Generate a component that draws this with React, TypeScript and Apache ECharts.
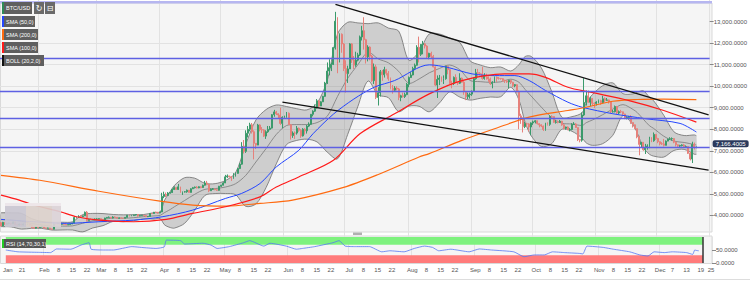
import React, { useEffect, useRef } from 'react';
import * as echarts from 'echarts';

// ---------- categories (daily, 2019-01-13 .. 2019-12-26) ----------
const firstDay = Date.UTC(2019, 0, 13);
const categories: string[] = Array.from({ length: 348 }, (_, i) =>
  new Date(firstDay + i * 86400000).toISOString().slice(0, 10));

// ---------- BTC/USD daily OHLC (2019-01-13 .. 2019-12-20) ----------
const opens = [
  3661,3508,3677,3583,3626,3643,3610,3698,3564,3550,3587,3553,3592,3583,3595,3550,3435,3402,3473,
  3440,3462,3504,3415,3401,3411,3371,3360,3614,3603,3640,3587,3604,3585,3560,3573,3600,3642,3901,3914,3990,3938,3978,4142,3763,3817,3806,3820,
  3824,3834,3848,3815,3736,3879,3907,3911,3874,3924,3911,3866,3881,3874,3870,3908,4006,3982,3990,4023,4040,3976,3990,4000,3993,3937,3950,4090,4088,4146,4145,
  4108,4160,4880,4974,4922,5036,5060,5201,5289,5205,5325,5064,5090,5096,5167,5067,5236,5288,5312,5277,5330,5292,5400,5504,5441,5144,5215,5226,5194,5163,
  5350,5402,5506,5788,5830,5796,5747,5830,5952,6175,6379,7205,6973,7814,7994,8205,7884,7344,7264,8197,7978,7963,7680,7882,7992,8052,8674,8805,8720,8660,8271,
  8555,8564,8742,8208,7707,7824,7822,8043,7954,7688,8000,7927,8145,8230,8693,8838,8994,9320,9082,9273,9527,10144,10701,10855,11011,11790,13016,11183,12407,11960,
  10818,10583,10801,11961,11215,10978,11208,11450,12285,12573,12156,11358,11815,11392,10256,10895,9477,9693,10666,10530,10767,10599,10343,9900,9811,9911,9870,9477,9552,9519,9607,
  10085,10399,10518,10821,10970,11805,11478,11941,11966,11862,11354,11523,11382,10895,10051,10311,10374,10231,10345,10916,10763,10139,10131,10407,10160,10138,10370,10185,9754,9510,9598,
  9630,9757,10346,10623,10594,10575,10353,10517,10441,10334,10115,10178,10410,10360,10358,10347,10276,10241,10198,10266,10181,10019,10070,9729,8620,8486,8118,8251,8245,8104,
  8293,8343,8393,8260,8205,8151,7988,8245,8228,8595,8586,8321,8336,8321,8374,8205,8047,8103,7973,7988,8222,8243,8078,7514,7493,8660,9244,9551,9256,9427,9205,
  9199,9261,9324,9235,9413,9342,9360,9267,8804,8813,9055,8757,8815,8808,8708,8491,8550,8577,8310,8206,8027,7642,7296,7397,7047,7147,7218,7531,7463,7761,
  7569,7424,7322,7320,7252,7448,7546,7556,7565,7401,7278,7217,7243,7270,7192,7194,6881,6617,7296,7151,
];
const closes = [
  3508,3677,3583,3626,3643,3610,3698,3564,3550,3587,3553,3592,3583,3595,3550,3435,3402,3473,3440,
  3462,3504,3415,3401,3411,3371,3360,3614,3603,3640,3587,3604,3585,3560,3573,3600,3642,3901,3914,3990,3938,3978,4142,3763,3817,3806,3820,3824,
  3834,3848,3815,3736,3879,3907,3911,3874,3924,3911,3866,3881,3874,3870,3908,4006,3982,3990,4023,4040,3976,3990,4000,3993,3937,3950,4090,4088,4146,4145,4108,
  4160,4880,4974,4922,5036,5060,5201,5289,5205,5325,5064,5090,5096,5167,5067,5236,5288,5312,5277,5330,5292,5400,5504,5441,5144,5215,5226,5194,5163,5350,
  5402,5506,5788,5830,5796,5747,5830,5952,6175,6379,7205,6973,7814,7994,8205,7884,7344,7264,8197,7978,7963,7680,7882,7992,8052,8674,8805,8720,8660,8271,8555,
  8564,8742,8208,7707,7824,7822,8043,7954,7688,8000,7927,8145,8230,8693,8838,8994,9320,9082,9273,9527,10144,10701,10855,11011,11790,13016,11183,12407,11960,10818,
  10583,10801,11961,11215,10978,11208,11450,12285,12573,12156,11358,11815,11392,10256,10895,9477,9693,10666,10530,10767,10599,10343,9900,9811,9911,9870,9477,9552,9519,9607,10085,
  10399,10518,10821,10970,11805,11478,11941,11966,11862,11354,11523,11382,10895,10051,10311,10374,10231,10345,10916,10763,10139,10131,10407,10160,10138,10370,10185,9754,9510,9598,9630,
  9757,10346,10623,10594,10575,10353,10517,10441,10334,10115,10178,10410,10360,10358,10347,10276,10241,10198,10266,10181,10019,10070,9729,8620,8486,8118,8251,8245,8104,8293,
  8343,8393,8260,8205,8151,7988,8245,8228,8595,8586,8321,8336,8321,8374,8205,8047,8103,7973,7988,8222,8243,8078,7514,7493,8660,9244,9551,9256,9427,9205,9199,
  9261,9324,9235,9413,9342,9360,9267,8804,8813,9055,8757,8815,8808,8708,8491,8550,8577,8310,8206,8027,7642,7296,7397,7047,7147,7218,7531,7463,7761,7569,
  7424,7322,7320,7252,7448,7546,7556,7565,7401,7278,7217,7243,7270,7192,7194,6881,6617,7296,7151,7166,
];
const highs = [
  3695,3700,3685,3660,3665,3650,3720,3700,3590,3620,3610,3620,3610,3615,3610,3560,3440,3500,3480,
  3480,3515,3505,3425,3430,3420,3375,3660,3630,3655,3640,3615,3610,3590,3600,3625,3660,3970,3940,4010,4000,3990,4180,4200,3840,3860,3830,3860,
  3870,3860,3860,3830,3890,3920,3950,3920,3960,3950,3920,3900,3900,3890,3920,4020,4010,4020,4040,4060,4050,4010,4020,4020,4010,3960,4100,4110,4160,4170,4160,
  4170,5050,5100,5060,5080,5100,5250,5350,5300,5460,5330,5110,5130,5200,5180,5260,5320,5340,5360,5350,5340,5430,5600,5600,5460,5250,5270,5240,5210,5370,
  5420,5540,5880,5900,5840,5830,5960,6000,6200,6420,7400,7500,7950,8150,8300,8290,7950,7350,8250,8230,8100,8000,7950,8150,8150,8700,8900,8850,8740,9000,8600,
  8630,8800,8780,8230,7900,7900,8150,8080,8000,8050,8050,8200,8320,8700,8880,9150,9400,9350,9300,9550,10200,11100,11250,11100,11800,13450,13200,12450,12450,12000,
  11200,10950,12000,12000,11400,11600,11550,12350,12800,13200,12200,11900,11850,11450,11050,11000,9950,10750,10750,10900,10800,10700,10400,10050,10000,10000,9920,9600,9700,9700,10150,
  10450,10650,10900,11050,11900,12300,11950,12100,12000,11900,11550,11600,11450,10920,10500,10520,10450,10500,10950,10950,10800,10250,10450,10550,10200,10600,10400,10250,9780,9700,9700,
  9800,10400,10800,10800,10650,10900,10600,10580,10450,10400,10230,10450,10450,10420,10380,10370,10300,10270,10300,10300,10200,10100,10090,9800,8720,8550,8350,8300,8280,8320,
  8400,8420,8400,8280,8230,8170,8300,8320,8650,8650,8600,8430,8400,8430,8390,8230,8120,8130,8050,8280,8330,8280,8080,7520,8780,10370,9800,9800,9510,9450,9250,
  9300,9380,9370,9550,9480,9450,9380,9280,8900,9100,9080,8870,8900,8820,8720,8600,8620,8650,8320,8220,8030,7700,7400,7400,7320,7300,7650,7630,7850,7780,
  7600,7430,7400,7550,7480,7560,7630,7620,7590,7420,7300,7280,7300,7320,7250,7210,6940,7420,7380,7200,
];
const lows = [
  3490,3500,3560,3570,3585,3560,3600,3540,3520,3530,3535,3540,3560,3570,3525,3400,3390,3390,3420,
  3425,3445,3400,3390,3395,3365,3350,3350,3570,3595,3570,3570,3565,3545,3550,3565,3590,3630,3860,3890,3900,3925,3970,3720,3750,3780,3780,3800,
  3810,3820,3800,3700,3730,3860,3885,3850,3860,3900,3850,3850,3850,3855,3860,3900,3950,3960,3970,3990,3940,3960,3980,3980,3920,3920,3940,4060,4080,4110,4080,
  4100,4150,4800,4850,4900,5010,5040,5190,5180,5180,5050,4950,5060,5050,5060,5060,5220,5250,5250,5260,5260,5280,5380,5400,5080,5140,5180,5170,5140,5150,
  5320,5390,5500,5740,5760,5600,5700,5800,5930,6150,6350,6880,6900,7620,7900,7800,6600,7080,7260,7900,7820,7640,7550,7830,7950,8030,8580,8660,8520,8200,8050,
  8480,8530,8200,7520,7600,7550,7750,7880,7600,7660,7750,7800,8100,8200,8600,8800,8960,9000,9080,9260,9500,10100,10500,10700,10980,11700,10600,11100,11550,10700,
  9700,10150,10800,11080,10800,10900,11150,11400,12120,11700,11050,11150,11200,10200,10100,9400,9100,9520,10250,10400,10500,10250,9850,9650,9730,9800,9350,9300,9470,9450,9580,
  9950,10380,10500,10750,10950,11100,11400,11480,11750,11300,11250,11300,10870,10000,9450,10050,10200,10100,10300,10550,10100,9900,10050,10150,10050,10100,10150,9600,9350,9400,9420,
  9550,9740,10300,10400,10500,10300,10300,10300,10200,10050,9900,10150,10200,10300,10300,10200,10150,10150,9900,10100,9950,9950,9700,8000,8250,7850,8050,8100,7900,7720,
  8200,8270,8220,8090,8100,7920,7930,8170,8160,8510,8300,8260,8270,8300,8160,7990,7980,7960,7900,7950,8200,8060,7450,7390,7420,8610,9100,9220,9070,9100,8980,
  9100,9200,9130,9200,9250,9320,9190,8750,8770,8780,8700,8700,8750,8640,8470,8460,8530,8250,8080,8000,7580,6790,7150,7000,6850,7050,7120,7400,7420,7500,
  7350,7250,7270,7200,7250,7440,7500,7470,7350,7200,7170,7150,7200,7180,7150,6850,6550,6430,7060,7120,
];

// ---------- Bollinger (20,2) read at sample days ----------
const bollDays  = [0,5,10,15,20,25,30,35,40,45,50,55,60,65,70,75,78,80,81,83,85,90,95,100,105,110,115,120,125,130,135,140,145,150,155,160,165,170,175,180,185,190,195,200,205,210,215,220,225,230,235,240,245,250,254,257,260,265,270,275,280,285,287,290,295,300,305,310,312,315,318,320,325,330,335,340,341];
const bollUpper = [4120,4117,4091,3847,3716,3677,3682,3702,4034,4092,4084,4041,4025,4033,4040,4126,4150,4659,4830,5115,5389,5748,5727,5488,5474,5615,5977,7293,8430,8915,9125,9055,8955,8898,9209,10276,12415,12965,12936,12901,12936,12697,12557,11203,11597,12424,12421,12234,12033,11177,10983,10859,10889,10704,10999,11374,11380,10844,9766,8560,8584,8768,9244,9604,10018,10152,9652,9643,9721,9782,9484,9328,8650,7879,7708,7735,7697];
const bollMid   = [3800,3791,3727,3623,3556,3497,3502,3512,3634,3754,3804,3881,3865,3893,3940,3976,4000,4119,4170,4275,4399,4688,4981,5208,5244,5315,5469,5857,6480,7105,7759,8171,8217,8218,8309,8606,9519,10361,10998,11571,11264,11081,10689,10137,10331,10618,10821,10982,10763,10265,10209,10177,10199,10324,10179,9850,9538,9022,8546,8278,8244,8176,8304,8428,8672,8934,9142,8915,8775,8464,8160,8040,7678,7447,7386,7287,7267];
const bollLower = [3480,3465,3363,3399,3396,3317,3322,3322,3234,3416,3524,3721,3705,3753,3840,3826,3850,3579,3510,3435,3409,3628,4235,4928,5014,5015,4961,4421,4530,5295,6393,7287,7479,7538,7409,6936,6623,7757,9060,10241,9592,9465,8821,9071,9065,8812,9221,9730,9493,9353,9435,9495,9509,9944,9359,8326,7696,7200,7326,7996,7904,7584,7364,7252,7326,7716,8632,8187,7829,7146,6836,6752,6706,7015,7064,6839,6837];

// ---------- moving averages and RSI, [dayIndex, value] ----------
const sma50 = [[0,3815],[16,3705],[32,3630],[48,3705],[65,3780],[79,3935],[94,4245],[110,4785],[118,5020],[127,5480],[135,6250],[146,7020],[153,7790],[163,8700],[173,9400],[183,9950],[193,10260],[210,10990],[219,10870],[231,10570],[242,10490],[252,10490],[259,10260],[267,9800],[278,9255],[285,9020],[300,8720],[316,8490],[333,8270],[341,7870]];
const sma100 = [[0,4940],[9,4710],[16,4480],[29,4170],[37,3935],[48,3780],[65,3705],[81,3815],[94,4090],[110,4400],[127,4860],[135,5320],[146,5785],[163,6560],[176,7790],[193,8720],[210,9640],[226,10260],[247,10570],[259,10570],[267,10410],[278,9950],[289,9720],[308,9330],[325,8870],[341,8330]];
const sma200 = [[0,5860],[19,5630],[48,5120],[78,4660],[94,4480],[110,4430],[127,4555],[143,4710],[168,5300],[185,5900],[205,6710],[210,6870],[226,7480],[242,8020],[259,8560],[278,8870],[287,9020],[300,9300],[312,9380],[325,9400],[341,9370]];
const rsi14 = [[0,50],[6,43],[16,41],[22,40],[25,54],[32,53],[37,69],[41,78],[42,53],[48,50],[53,50],[62,63],[68,59],[74,56],[78,62],[79,88],[86,86],[88,73],[97,76],[101,69],[104,56],[110,63],[117,78],[120,86],[127,65],[130,76],[138,65],[143,53],[146,56],[152,63],[161,78],[164,86],[167,65],[172,63],[179,63],[185,43],[189,47],[196,43],[201,56],[206,65],[210,60],[213,47],[219,53],[228,43],[233,54],[239,50],[250,43],[255,24],[260,31],[265,31],[269,43],[275,40],[282,37],[284,35],[286,65],[294,60],[299,53],[307,43],[312,31],[316,27],[319,43],[324,40],[328,43],[335,40],[338,33],[339,50],[340,48],[341,47]];

// ---------- drawn levels / trendlines ----------
const priceLevels = [11300, 9760, 8500];
const lastPrice = 7166.4005;
const trendUpper = [['2019-06-26', 13800], ['2019-12-26', 8670]];
const trendLower = [['2019-05-31', 9254], ['2019-12-26', 6104]];
const rsiZoneEnd = '2019-12-22';
const rsiUpperZone = [70, 100];
const rsiLowerZone = [0, 30];

// ---------- axis ticks ----------
const yTicks = [4000, 5000, 6000, 7000, 8000, 9000, 10000, 11000, 12000, 13000];
const rsiTicks = [0, 50];
const xTickLabels: [string, string][] = [
  ['2019-01-14','Jan'],['2019-01-21','21'],['2019-02-01','Feb'],['2019-02-08','8'],['2019-02-15','15'],['2019-02-22','22'],
  ['2019-03-01','Mar'],['2019-03-08','8'],['2019-03-15','15'],['2019-03-22','22'],['2019-04-01','Apr'],['2019-04-08','8'],
  ['2019-04-15','15'],['2019-04-22','22'],['2019-05-01','May'],['2019-05-08','8'],['2019-05-15','15'],['2019-05-22','22'],
  ['2019-06-01','Jun'],['2019-06-08','8'],['2019-06-15','15'],['2019-06-22','22'],['2019-07-01','Jul'],['2019-07-08','8'],
  ['2019-07-15','15'],['2019-07-22','22'],['2019-08-01','Aug'],['2019-08-08','8'],['2019-08-15','15'],['2019-08-22','22'],
  ['2019-09-01','Sep'],['2019-09-08','8'],['2019-09-15','15'],['2019-09-22','22'],['2019-10-01','Oct'],['2019-10-08','8'],
  ['2019-10-15','15'],['2019-10-22','22'],['2019-11-01','Nov'],['2019-11-08','8'],['2019-11-15','15'],['2019-11-22','22'],
  ['2019-12-01','Dec'],['2019-12-07','7'],['2019-12-14','13'],['2019-12-21','19'],['2019-12-26','25'],
];

const legendItems = [
  { text: 'BTC/USD', y: 2, w: 30, h: 12, color: '#2e8b57' },
  { text: 'SMA (50,0)', y: 16, w: 33, h: 11, color: '#2446ff' },
  { text: 'SMA (200,0)', y: 29, w: 36, h: 11, color: '#ff6a10' },
  { text: 'SMA (100,0)', y: 42, w: 36, h: 11, color: '#ff1a1a' },
  { text: 'BOLL (20,2,0)', y: 55, w: 42, h: 11, color: '#111111' },
];

const FONT = 'Liberation Sans, Arial, sans-serif';
const fmt4 = (v: number) =>
  v.toLocaleString('en-US', { minimumFractionDigits: 4, maximumFractionDigits: 4 });

export default function App() {
  const ref = useRef<HTMLDivElement>(null);

  useEffect(() => {
    if (!ref.current) return;
    const chart = echarts.init(ref.current, null, { renderer: 'svg' });

    const candleData = closes.map((c, i) => [opens[i], c, lows[i], highs[i]]);
    const labelMap: Record<string, string> = {};
    xTickLabels.forEach(([d, t]) => { labelMap[d] = t; });
    const monthStart = (idx: number) => categories[idx] && categories[idx].endsWith('-01') && idx > 0;

    const lineStyleTrend = { color: '#111', width: 1.3, type: 'solid' };

    const graphics: any[] = [
      { type: 'rect', z: -10, silent: true, shape: { x: 0.5, y: 3, width: 711.5, height: 229 }, style: { fill: '#f5f5f5', stroke: '#d9d9d9', lineWidth: 1 } },
      { type: 'rect', z: -10, silent: true, shape: { x: 0.5, y: 236, width: 711.5, height: 27.5 }, style: { fill: '#f5f5f5', stroke: '#d9d9d9', lineWidth: 1 } },
      { type: 'rect', z: 60, silent: true, shape: { x: 0, y: 1, width: 712, height: 2.5 }, style: { fill: '#b6b6f0' } },
      { type: 'line', z: 60, silent: true, shape: { x1: 0, y1: 279.5, x2: 750, y2: 279.5 }, style: { stroke: '#dddddd', lineWidth: 1 } },
      { type: 'rect', z: 60, silent: true, shape: { x: 353, y: 232.5, width: 9, height: 2.5 }, style: { fill: '#b0b0b0' } },
      // watermark block bottom-left
      { type: 'rect', z: 60, silent: true, shape: { x: 5, y: 203, width: 21, height: 24 }, style: { fill: '#c9c5d0', opacity: 0.92 } },
      { type: 'rect', z: 60, silent: true, shape: { x: 26, y: 203, width: 26, height: 24 }, style: { fill: '#dacfca', opacity: 0.92 } },
      { type: 'rect', z: 60, silent: true, shape: { x: 52, y: 203, width: 9, height: 24 }, style: { fill: '#dad1d6', opacity: 0.92 } },
      { type: 'rect', z: 61, silent: true, shape: { x: 5, y: 203, width: 56, height: 3 }, style: { fill: '#efe9ec', opacity: 0.9 } },
    ];
    legendItems.forEach((it) => {
      graphics.push({ type: 'rect', z: 70, silent: true, shape: { x: 2, y: it.y, width: it.w, height: it.h }, style: { fill: '#5f5f5f' } });
      graphics.push({ type: 'rect', z: 71, silent: true, shape: { x: 2, y: it.y, width: 2, height: it.h }, style: { fill: it.color } });
      graphics.push({ type: 'text', z: 72, silent: true, x: 6, y: it.y + it.h / 2, style: { text: it.text, fill: '#ffffff', font: `5.5px ${FONT}`, verticalAlign: 'middle' } });
    });
    // icons next to BTC/USD
    [['\u21bb', 34], ['\u229f', 45]].forEach(([g, x]) => {
      graphics.push({ type: 'rect', z: 70, silent: true, shape: { x: x as number, y: 2, width: 10, height: 12 }, style: { fill: '#6a6a6a' } });
      graphics.push({ type: 'text', z: 72, silent: true, x: (x as number) + 5, y: 8, style: { text: g as string, fill: '#ffffff', font: `8px DejaVu Sans`, align: 'center', verticalAlign: 'middle' } });
    });
    // RSI label
    graphics.push({ type: 'rect', z: 70, silent: true, shape: { x: 2, y: 239, width: 44, height: 9 }, style: { fill: '#555555' } });
    graphics.push({ type: 'rect', z: 71, silent: true, shape: { x: 2, y: 239, width: 2, height: 9 }, style: { fill: '#22cc22' } });
    graphics.push({ type: 'text', z: 72, silent: true, x: 6, y: 243.5, style: { text: 'RSI (14,70,30,1)', fill: '#ffffff', font: `5.5px ${FONT}`, verticalAlign: 'middle' } });

    const option: any = {
      animation: false,
      backgroundColor: '#ffffff',
      textStyle: { fontFamily: FONT },
      graphic: { elements: graphics },
      grid: [
        { left: 0, right: 38, top: -0.92, bottom: 47.08 },
        { left: 0, right: 38, top: 237, bottom: 21 },
      ],
      xAxis: [
        {
          type: 'category', gridIndex: 0, data: categories, boundaryGap: true,
          axisLine: { show: false }, axisTick: { show: false }, axisLabel: { show: false },
          splitLine: { show: true, interval: (i: number) => monthStart(i), lineStyle: { color: '#e2e2e2', width: 1 } },
        },
        {
          type: 'category', gridIndex: 1, data: categories, boundaryGap: true,
          axisLine: { show: false }, axisTick: { show: false },
          axisLabel: {
            show: true, interval: (i: number, v: string) => labelMap[v] !== undefined,
            formatter: (v: string) => labelMap[v] || '', fontSize: 6, color: '#555', margin: 4, fontFamily: FONT,
          },
          splitLine: { show: true, interval: (i: number) => monthStart(i), lineStyle: { color: '#e2e2e2', width: 1 } },
        },
      ],
      yAxis: [
        {
          type: 'value', gridIndex: 0, position: 'right', min: 3000, max: 14000, interval: 1000,
          axisLine: { show: false },
          axisTick: { show: true, length: 4, lineStyle: { color: '#888' }, customValues: yTicks },
          axisLabel: {
            fontSize: 6, color: '#555', margin: 4, fontFamily: FONT, customValues: yTicks,
            formatter: (v: number) => (v <= 3000 || v >= 14000 ? '' : fmt4(v)),
          },
          splitLine: { show: true, showMinLine: false, showMaxLine: false, lineStyle: { color: '#e2e2e2', width: 1 } },
        },
        {
          type: 'value', gridIndex: 1, position: 'right', min: 0, max: 100, interval: 50,
          axisLine: { show: false },
          axisTick: { show: true, length: 4, lineStyle: { color: '#888' }, customValues: rsiTicks },
          axisLabel: {
            fontSize: 6, color: '#555', margin: 4, fontFamily: FONT, customValues: rsiTicks,
            formatter: (v: number) => (v >= 100 ? '' : fmt4(v)),
          },
          splitLine: { show: false },
        },
      ],
      series: [
        {
          type: 'custom', name: 'BOLL', xAxisIndex: 0, yAxisIndex: 0, z: 1, silent: true, clip: true,
          data: [[0, bollMid[0]]],
          encode: { x: 0, y: 1 },
          renderItem: (params: any, api: any) => {
            const up = bollDays.map((d, k) => api.coord([d, bollUpper[k]]));
            const lo = bollDays.map((d, k) => api.coord([d, bollLower[k]]));
            const md = bollDays.map((d, k) => api.coord([d, bollMid[k]]));
            const sm = 0.3;
            return {
              type: 'group',
              children: [
                { type: 'polygon', shape: { points: up.concat(lo.slice().reverse()), smooth: sm }, style: { fill: 'rgba(105,105,105,0.27)', stroke: null } },
                { type: 'polyline', shape: { points: up, smooth: sm }, style: { stroke: '#6e6e6e', lineWidth: 0.8, fill: null } },
                { type: 'polyline', shape: { points: lo, smooth: sm }, style: { stroke: '#6e6e6e', lineWidth: 0.8, fill: null } },
                { type: 'polyline', shape: { points: md, smooth: sm }, style: { stroke: '#7a7a7a', lineWidth: 0.8, fill: null } },
              ],
            };
          },
        },
        {
          type: 'candlestick', name: 'BTC/USD', xAxisIndex: 0, yAxisIndex: 0, z: 3,
          data: candleData, barWidth: '70%',
          itemStyle: { color: '#3b9a6b', color0: '#e6817b', borderColor: '#3b9a6b', borderColor0: '#e6817b', borderWidth: 1 },
          markLine: {
            silent: true, symbol: ['none', 'none'], animation: false,
            label: { show: false },
            lineStyle: { color: '#5e60e3', width: 1.3, type: 'solid' },
            data: [
              ...priceLevels.map((v) => ({ yAxis: v })),
              {
                yAxis: lastPrice,
                label: {
                  show: true, position: 'end', distance: 3, offset: [0, -3.5], formatter: fmt4(lastPrice), color: '#ffffff',
                  backgroundColor: '#2b3a5c', padding: [1, 3, 0, 3], lineHeight: 6, borderRadius: 2, fontSize: 6, fontFamily: FONT,
                },
              },
              [{ coord: trendUpper[0], lineStyle: lineStyleTrend }, { coord: trendUpper[1], lineStyle: lineStyleTrend }],
              [{ coord: trendLower[0], lineStyle: lineStyleTrend }, { coord: trendLower[1], lineStyle: lineStyleTrend }],
            ],
          },
        },
        {
          type: 'line', name: 'SMA (50,0)', xAxisIndex: 0, yAxisIndex: 0, z: 4, data: sma50,
          showSymbol: false, smooth: 0.3, silent: true, lineStyle: { color: '#2446ff', width: 1 },
        },
        {
          type: 'line', name: 'SMA (200,0)', xAxisIndex: 0, yAxisIndex: 0, z: 4, data: sma200,
          showSymbol: false, smooth: 0.3, silent: true, lineStyle: { color: '#ff6a10', width: 1.2 },
        },
        {
          type: 'line', name: 'SMA (100,0)', xAxisIndex: 0, yAxisIndex: 0, z: 4, data: sma100,
          showSymbol: false, smooth: 0.3, silent: true, lineStyle: { color: '#ff1a1a', width: 1.2 },
        },
        {
          type: 'line', name: 'RSI', xAxisIndex: 1, yAxisIndex: 1, z: 4, data: rsi14,
          showSymbol: false, smooth: 0.15, silent: true, lineStyle: { color: '#5577f2', width: 0.8 },
          markArea: {
            silent: true,
            data: [
              [{ xAxis: categories[0], yAxis: rsiUpperZone[0], itemStyle: { color: '#7ef27e' } }, { xAxis: rsiZoneEnd, yAxis: rsiUpperZone[1] }],
              [{ xAxis: categories[0], yAxis: rsiLowerZone[0], itemStyle: { color: '#ff7b7b' } }, { xAxis: rsiZoneEnd, yAxis: rsiLowerZone[1] }],
            ],
          },
          markLine: {
            silent: true, symbol: ['none', 'none'], label: { show: false },
            lineStyle: { color: '#333', width: 1.5, type: 'solid' },
            data: [{ xAxis: rsiZoneEnd }],
          },
        },
      ],
    };

    chart.setOption(option);
    return () => chart.dispose();
  }, []);

  return (
    <div
      ref={ref}
      style={{ position: 'absolute', left: 0, top: 0, width: 750, height: 284 }}
    />
  );
}
